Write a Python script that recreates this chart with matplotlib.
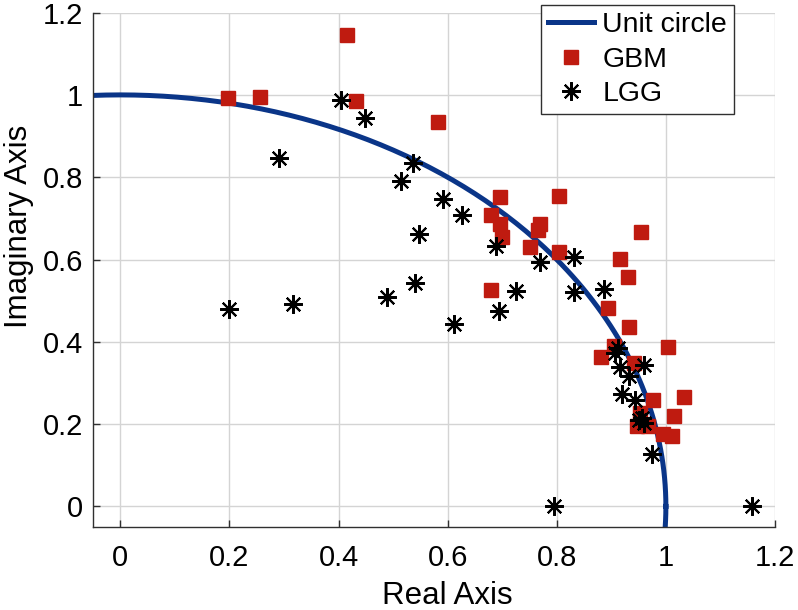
import matplotlib.pyplot as plt
import numpy as np

plt.rcParams['font.family'] = ['Liberation Sans', 'DejaVu Sans']

# GBM eigenvalues (red squares)
gbm_re = [0.198, 0.256, 0.415, 0.432, 0.583, 0.696, 0.680, 0.696, 0.699, 0.679,
          0.769, 0.766, 0.751, 0.804, 0.804, 0.954, 0.916, 0.930, 0.893, 0.933,
          0.904, 0.882, 1.003, 0.941, 0.976, 1.033, 1.015, 0.953, 0.947, 0.968,
          0.995, 1.011]
gbm_im = [0.993, 0.996, 1.146, 0.984, 0.935, 0.752, 0.707, 0.686, 0.654, 0.526,
          0.686, 0.672, 0.630, 0.755, 0.619, 0.666, 0.601, 0.557, 0.482, 0.437,
          0.389, 0.362, 0.387, 0.348, 0.259, 0.266, 0.219, 0.227, 0.196, 0.196,
          0.177, 0.172]

# LGG eigenvalues (asterisks)
lgg_re = [0.405, 0.448, 0.291, 0.536, 0.514, 0.591, 0.627, 0.548, 0.688, 0.769,
          0.831, 0.831, 0.541, 0.488, 0.725, 0.694, 0.612, 0.200, 0.316, 0.886,
          0.912, 0.907, 0.916, 0.959, 0.933, 0.919, 0.944, 0.956, 0.959, 0.950,
          0.974, 0.795, 1.157]
lgg_im = [0.988, 0.943, 0.846, 0.834, 0.791, 0.747, 0.709, 0.662, 0.632, 0.595,
          0.607, 0.520, 0.543, 0.508, 0.524, 0.474, 0.444, 0.480, 0.492, 0.529,
          0.385, 0.373, 0.340, 0.344, 0.316, 0.274, 0.259, 0.215, 0.203, 0.210,
          0.127, 0.0, 0.0]

ticks = [0, 0.2, 0.4, 0.6, 0.8, 1, 1.2]
tick_labels = ['0', '0.2', '0.4', '0.6', '0.8', '1', '1.2']

fig = plt.figure(figsize=(7.98, 6.10), dpi=100)
ax = fig.add_axes([93 / 798, 1 - 527 / 610, 682 / 798, 514.4 / 610])

# unit circle
theta = np.linspace(0, 2 * np.pi, 721)
ax.plot(np.cos(theta), np.sin(theta), color='#0a3588', lw=3.6,
        label='Unit circle', zorder=2)

ax.plot(gbm_re, gbm_im, ls='none', marker='s', ms=9.5, color='#bf1b10',
        mec='#bf1b10', label='GBM', zorder=3)
ax.plot(lgg_re, lgg_im, ls='none', marker=(8, 2, 0), ms=13.5, mew=1.5,
        color='black', label='LGG', zorder=4)

ax.set_xlim(-0.05, 1.2)
ax.set_ylim(-0.05, 1.2)
ax.set_xticks(ticks)
ax.set_xticklabels(tick_labels)
ax.set_yticks(ticks)
ax.set_yticklabels(tick_labels)
ax.grid(True, color='#d4d4d4', lw=1)
ax.set_axisbelow(True)

ax.spines['top'].set_visible(False)
ax.spines['right'].set_visible(False)
for s in ['left', 'bottom']:
    ax.spines[s].set_color('#303030')
    ax.spines[s].set_linewidth(1)
ax.tick_params(direction='in', length=5, width=1, color='#303030',
               labelsize=21, pad=12)
ax.tick_params(axis='y', pad=7)

ax.set_xlabel('Real Axis', fontsize=22.5)
ax.set_ylabel('Imaginary Axis', fontsize=22.5)
ax.xaxis.set_label_coords(0.519, -0.105)
ax.yaxis.set_label_coords(-0.086, 0.585)

leg = fig.legend(loc='upper right', bbox_to_anchor=(734 / 798, 1 - 5 / 610),
                 fontsize=20.5, frameon=True, fancybox=False, framealpha=1,
                 borderaxespad=0, handlelength=1.6, handletextpad=0.3,
                 labelspacing=0.3, borderpad=0.25)
leg.get_frame().set_edgecolor('#303030')
leg.get_frame().set_linewidth(1)

fig.savefig('out.png', dpi=100)
